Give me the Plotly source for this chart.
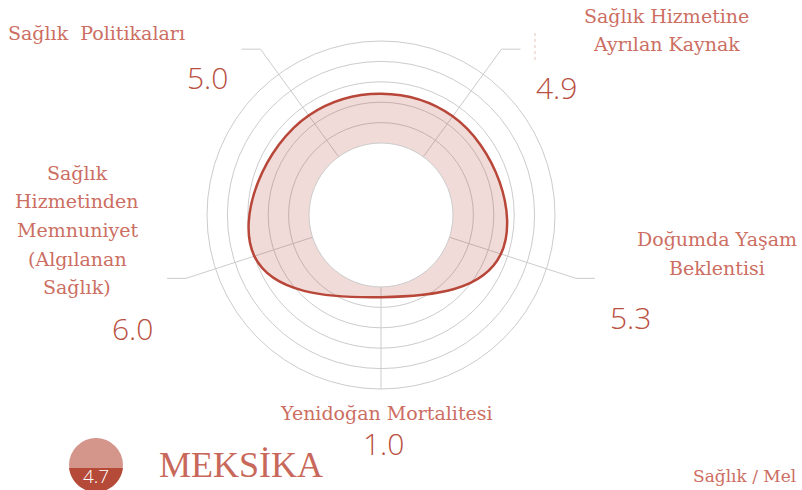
import math
import numpy as np
import plotly.graph_objects as go

# ---- data ----
categories = ["Sağlık  Politikaları", "Sağlık Hizmetine<br>Ayrılan Kaynak",
              "Doğumda Yaşam<br>Beklentisi", "Yenidoğan Mortalitesi",
              "Sağlık<br>Hizmetinden<br>Memnuniyet<br>(Algılanan<br>Sağlık)"]
values = [5.0, 4.9, 5.3, 1.0, 6.0]
overall_score = 4.7
country = "MEKSİKA"
footer = "Sağlık / Mel"
radial_ticks = [0, 2, 4, 6, 8, 10]

# ---- layout constants ----
W, H = 802, 490
CX, CY, R = 381, 215, 174
HOLE_R = 72
EXT_R = 205
ELBOW = 19
ROT = 126  # first category direction (deg, ccw from east)

LINE_COL = "#b8473a"
FILL_COL = "rgba(184,74,58,0.20)"
GRID_COL = "#cccccc"
LABEL_COL = "#cc6e62"
VALUE_COL = "#b9503f"
SERIF = "DejaVu Serif, Liberation Serif, serif"
SERIF2 = "Liberation Serif, DejaVu Serif, serif"
SANS = "Open Sans, Lato, sans-serif"
LABEL_SIZE = 19
LINE_GAP = 28.5


def px(x):
    return x / W


def py(y):
    return 1 - y / H


n = len(categories)
step = 360 / n
thetas = [i * step for i in range(n)]

fig = go.Figure()
fig.add_trace(go.Scatterpolar(
    r=values + [values[0]],
    theta=thetas + [thetas[0]],
    mode="lines",
    fill="toself",
    fillcolor=FILL_COL,
    line=dict(color=LINE_COL, width=2.5, shape="spline", smoothing=1.3),
    hoverinfo="skip",
    showlegend=False,
))

fig.update_layout(
    width=W, height=H,
    margin=dict(l=0, r=0, t=0, b=0),
    paper_bgcolor="white",
    plot_bgcolor="white",
    showlegend=False,
    polar=dict(
        domain=dict(x=[(CX - R) / W, (CX + R) / W],
                    y=[1 - (CY + R) / H, 1 - (CY - R) / H]),
        hole=HOLE_R / R,
        bgcolor="rgba(0,0,0,0)",
        radialaxis=dict(range=[0, 10], tickvals=radial_ticks, showticklabels=False,
                        ticks="", showline=False, gridcolor=GRID_COL, gridwidth=1),
        angularaxis=dict(thetaunit="degrees", rotation=ROT, direction="clockwise",
                         tickmode="array", tickvals=thetas, showticklabels=False,
                         ticks="", showline=True, linecolor=GRID_COL, linewidth=1,
                         gridcolor=GRID_COL, gridwidth=1),
    ),
)

shapes = []
# spoke extensions with elbows (all but the bottom one)
for i, th in enumerate(thetas):
    compass = (90 - ROT + th) % 360
    a = math.radians(compass)
    s, c = math.sin(a), math.cos(a)
    if abs(s) < 1e-6:
        continue
    x1, y1 = CX + R * s, CY - R * c
    x2, y2 = CX + EXT_R * s, CY - EXT_R * c
    x3 = x2 + ELBOW * (1 if s > 0 else -1)
    shapes.append(dict(type="path", xref="paper", yref="paper",
                       path=f"M {px(x1)} {py(y1)} L {px(x2)} {py(y2)} L {px(x3)} {py(y2)}",
                       line=dict(color=GRID_COL, width=1)))

# faint dotted marker
shapes.append(dict(type="line", xref="paper", yref="paper",
                   x0=px(535), x1=px(535), y0=py(33), y1=py(63),
                   line=dict(color="#e4c4bc", width=1, dash="dot")))

# score badge
bx, by, br = 96, 465, 27
shapes.append(dict(type="circle", xref="paper", yref="paper",
                   x0=px(bx - br), x1=px(bx + br), y0=py(by + br), y1=py(by - br),
                   fillcolor="#d4968a", line=dict(width=0)))
cut = 3
half = math.acos(cut / br)
angs = np.linspace(math.pi / 2 - half, math.pi / 2 + half, 40)
pts = [(bx + br * math.cos(t), by + br * math.sin(t)) for t in angs]
path = "M " + " L ".join(f"{px(x)} {py(y)}" for x, y in pts) + " Z"
shapes.append(dict(type="path", xref="paper", yref="paper", path=path,
                   fillcolor="#b54a38", line=dict(width=0)))
fig.update_layout(shapes=shapes)

# annotations: (x, y of first line, xanchor)
label_pos = [
    (6, 33, "left"),
    (666, 16, "center"),
    (717, 239, "center"),
    (386, 413, "center"),
    (77, 173, "center"),
]
value_pos = [(207, 77), (556, 87), (630, 317), (383, 443), (132, 328)]

ann = []
for cat, (x, y, xa) in zip(categories, label_pos):
    for k, line in enumerate(cat.split("<br>")):
        ann.append(dict(x=px(x), y=py(y + k * LINE_GAP), xref="paper", yref="paper",
                        text=line, showarrow=False, xanchor=xa, yanchor="middle",
                        font=dict(family=SERIF, size=LABEL_SIZE, color=LABEL_COL)))
for v, (x, y) in zip(values, value_pos):
    ann.append(dict(x=px(x), y=py(y), xref="paper", yref="paper", text=f"{v:.1f}",
                    showarrow=False, xanchor="center", yanchor="middle",
                    font=dict(family=SANS, size=30, color=VALUE_COL, weight=300)))
ann.append(dict(x=px(bx), y=py(476), xref="paper", yref="paper", text=f"{overall_score:.1f}",
                showarrow=False, xanchor="center", yanchor="middle",
                font=dict(family=SANS, size=19, color="white", weight=300)))
ann.append(dict(x=px(157), y=py(465), xref="paper", yref="paper", text=country,
                showarrow=False, xanchor="left", yanchor="middle",
                font=dict(family=SERIF2, size=36, color="#c8685a")))
ann.append(dict(x=px(798), y=py(476), xref="paper", yref="paper", text=footer,
                showarrow=False, xanchor="right", yanchor="middle",
                font=dict(family=SERIF, size=17, color=LABEL_COL)))
fig.update_layout(annotations=ann)

fig.write_html("out.html",
               config={"displayModeBar": False},
               post_script="document.body.style.margin='0';"
                           "document.body.style.overflow='hidden';"
                           "document.documentElement.style.overflow='hidden';")
